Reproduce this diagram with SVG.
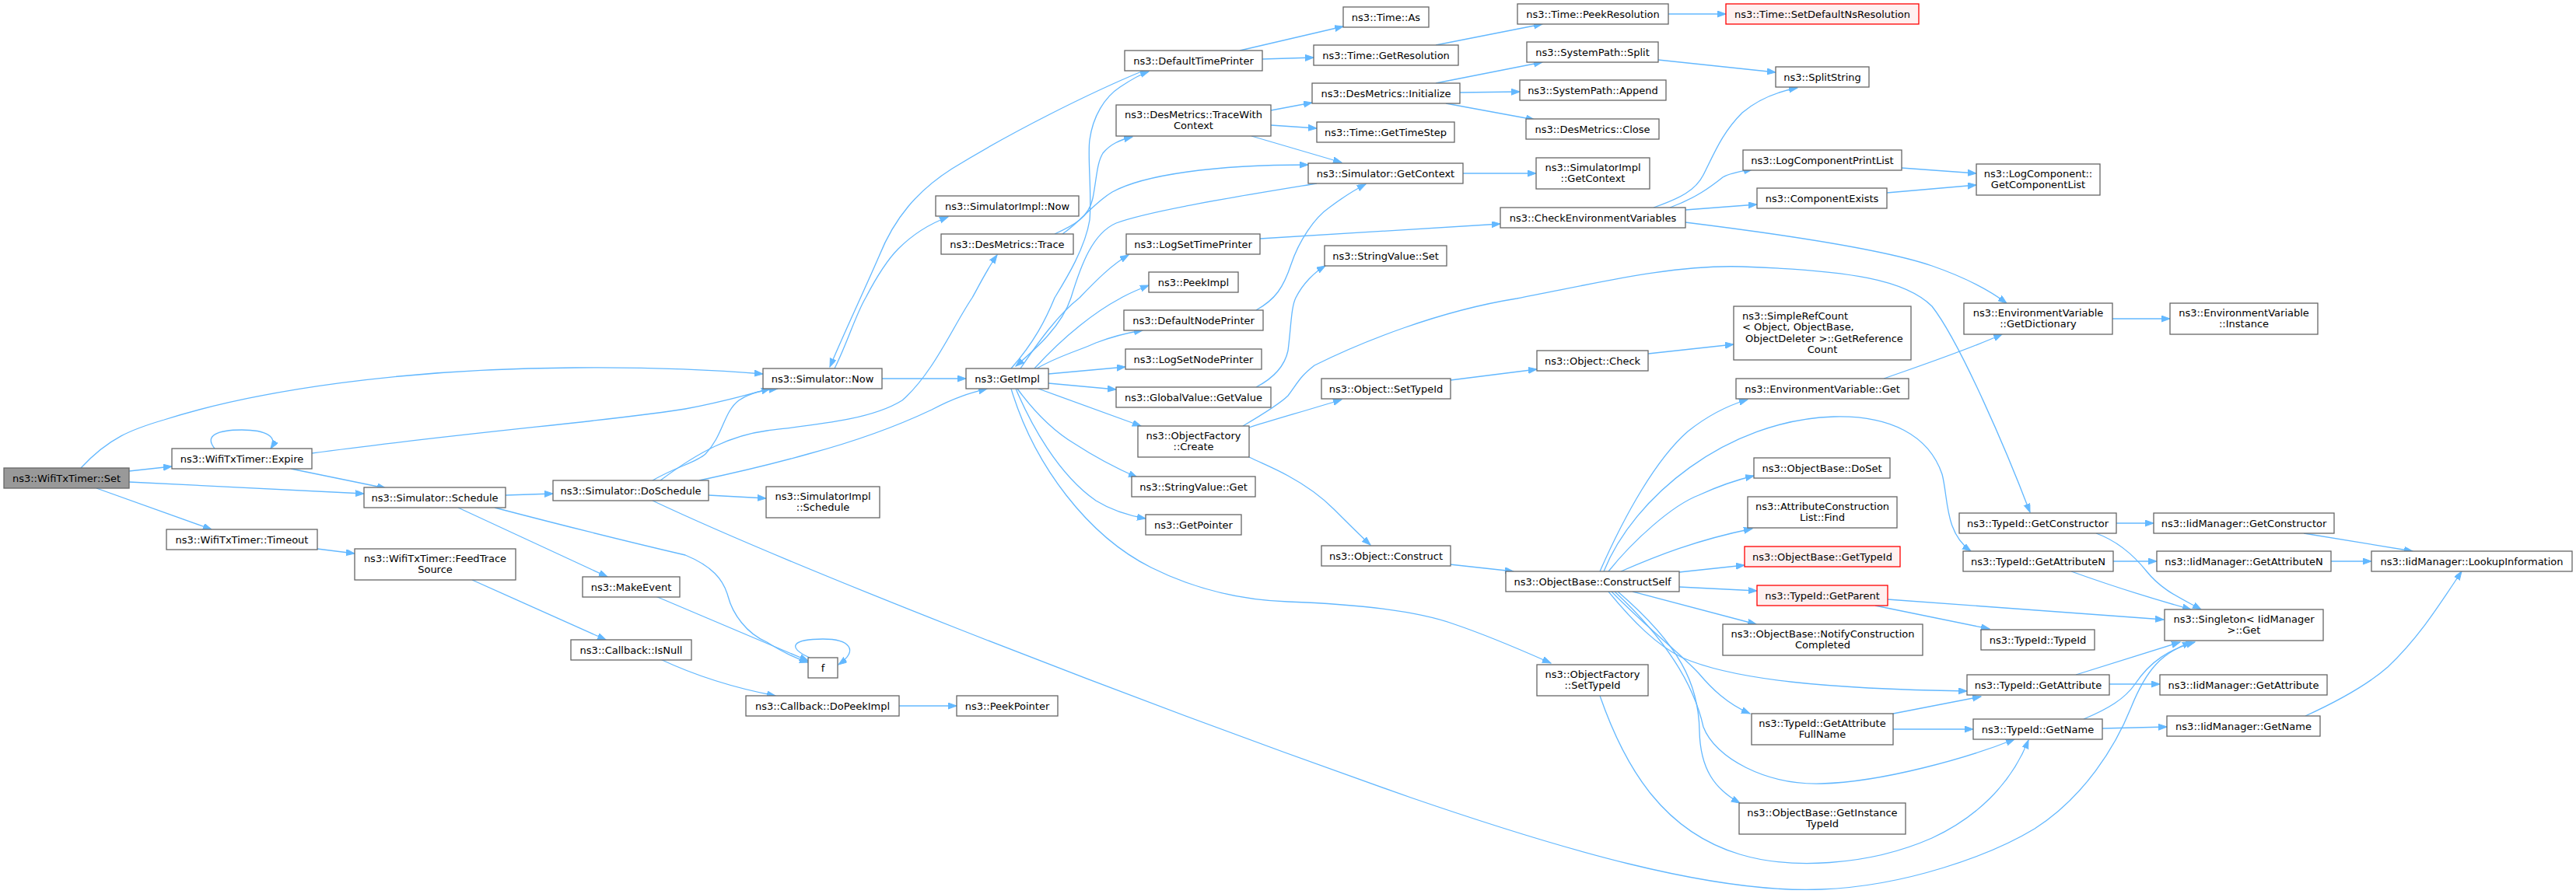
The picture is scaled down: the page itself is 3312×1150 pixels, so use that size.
<svg xmlns="http://www.w3.org/2000/svg" width="3312" height="1150" viewBox="0 0 3312 1150">
<style>
.node rect{fill:#ffffff;stroke:#666666;stroke-width:1.3}
.root rect{fill:#999999;stroke:#666666;stroke-width:1.3}
.red rect{fill:#fff0f0;stroke:#ff0000;stroke-width:1.3}
text{font-family:"DejaVu Sans","Liberation Sans",sans-serif;font-size:13px;fill:#000000;text-anchor:middle}
.lt{text-anchor:start}
.edges path{fill:none;stroke:#63b8ff;stroke-width:1.3;marker-end:url(#arr)}
</style>
<defs>
<marker id="arr" markerUnits="userSpaceOnUse" markerWidth="12" markerHeight="9" refX="11" refY="4" orient="auto">
<path d="M0,0 L11,4 L0,8 z" fill="#63b8ff" stroke="#63b8ff" stroke-width="1"/>
</marker>
</defs>
<rect x="0" y="0" width="3312" height="1150" fill="#ffffff"/>
<g id="connectors" class="edges">
<path d="M104,602 C140,563 170,552 211,540 C330,502 520,474 739,473 C850,472 920,476 981,481"/>
<path d="M166,606 L221,600"/>
<path d="M166,620 L468,635"/>
<path d="M124,628 L272,681"/>
<path d="M276,577 C262,560 280,553 311,553 C342,553 358,562 348,577"/>
<path d="M401,583 C600,556 800,540 881,526 C930,517 960,508 990,500"/>
<path d="M374,603 L496,628"/>
<path d="M650,637 L711,635"/>
<path d="M589,653 L781,742"/>
<path d="M636,653 C720,675 800,695 881,714 C915,728 930,745 936,767 C942,790 960,815 986,826 C1005,838 1020,846 1039,852"/>
<path d="M843,767 L1039,850"/>
<path d="M1041,846 C1010,832 1020,822 1058,822 C1092,822 1105,836 1078,855"/>
<path d="M408,706 L456,712"/>
<path d="M607,746 L779,823"/>
<path d="M849,848 C900,872 950,886 997,895"/>
<path d="M1156,908 L1230,908"/>
<path d="M839,618 C870,600 895,595 907,584 C930,560 930,530 950,515 C965,505 980,502 1000,500"/>
<path d="M849,618 C900,580 940,560 986,554 C1050,546 1120,540 1160,515 C1200,480 1225,420 1250,383 C1260,365 1270,345 1282,328"/>
<path d="M899,618 C960,605 1000,595 1039,584 C1110,565 1160,545 1198,527 C1230,510 1250,505 1269,500"/>
<path d="M911,637 L985,641"/>
<path d="M839,644 C1000,720 1400,880 1814,1026 C2000,1090 2200,1150 2342,1144 C2450,1140 2560,1100 2616,1066 C2680,1025 2720,960 2740,910 C2760,860 2780,840 2817,826"/>
<path d="M1134,487 L1242,487"/>
<path d="M1073,474 C1090,440 1100,405 1113,383 C1125,360 1140,335 1155,320 C1175,300 1195,288 1219,279"/>
<path d="M1470,91 C1400,120 1300,170 1224,217 C1180,245 1150,280 1130,330 C1115,365 1080,440 1067,472"/>
<path d="M1300,474 C1330,440 1345,410 1356,383 C1370,360 1395,320 1401,283 C1404,250 1398,200 1401,180 C1405,150 1420,125 1440,112 C1455,102 1465,96 1477,92"/>
<path d="M1693,236 C1620,248 1480,270 1435,287 C1405,300 1390,340 1377,383 C1365,420 1330,450 1306,471"/>
<path d="M1312,474 C1335,440 1360,405 1388,383 C1410,360 1430,340 1451,328"/>
<path d="M1330,474 C1370,430 1410,400 1440,384 C1450,378 1462,373 1477,367"/>
<path d="M1333,474 C1360,458 1390,450 1409,441 C1430,433 1450,428 1469,425"/>
<path d="M1348,481 L1447,472"/>
<path d="M1348,493 L1435,501"/>
<path d="M1335,500 L1467,548"/>
<path d="M1308,500 C1330,530 1355,555 1382,571 C1405,586 1430,600 1462,614"/>
<path d="M1306,500 C1325,545 1360,610 1409,644 C1430,657 1450,663 1473,667"/>
<path d="M1300,500 C1330,600 1400,690 1480,730 C1540,760 1600,772 1656,774 C1740,777 1820,785 1870,803 C1920,820 1960,838 1994,853"/>
<path d="M1356,301 C1380,290 1400,280 1405,255 C1410,230 1410,210 1418,197 C1428,185 1440,180 1456,176"/>
<path d="M1366,301 C1390,285 1405,262 1430,247 C1470,225 1560,212 1682,212"/>
<path d="M1594,65 L1727,34"/>
<path d="M1623,76 L1689,74"/>
<path d="M1634,142 L1687,132"/>
<path d="M1634,161 L1693,165"/>
<path d="M1609,175 L1725,209"/>
<path d="M1620,307 L1929,288"/>
<path d="M1846,58 L1983,31"/>
<path d="M2145,18 L2219,18"/>
<path d="M1846,107 L1983,80"/>
<path d="M1877,119 L1954,118"/>
<path d="M1859,133 L1973,154"/>
<path d="M2132,77 L2283,93"/>
<path d="M1881,223 L1975,223"/>
<path d="M2126,267 C2160,255 2180,245 2190,225 C2205,195 2215,170 2240,145 C2260,128 2285,118 2311,113"/>
<path d="M2147,267 C2180,255 2200,240 2215,228 C2225,222 2240,220 2253,218"/>
<path d="M2167,270 L2259,263"/>
<path d="M2167,286 C2280,300 2420,320 2484,342 C2530,358 2560,375 2580,390"/>
<path d="M2445,216 L2541,223"/>
<path d="M2426,248 L2541,238"/>
<path d="M1615,399 C1640,385 1650,370 1660,340 C1670,310 1690,280 1709,267 C1725,255 1740,245 1756,237"/>
<path d="M1615,498 C1640,485 1652,470 1656,451 C1660,420 1660,395 1666,383 C1675,365 1690,350 1704,342"/>
<path d="M1606,550 C1630,542 1680,528 1725,514"/>
<path d="M1598,548 C1620,535 1645,520 1656,509 C1670,490 1672,484 1690,470 C1750,440 1850,400 1950,384 C2050,365 2150,340 2240,343 C2380,348 2450,360 2484,394 C2520,440 2580,580 2610,659"/>
<path d="M1606,588 C1625,597 1640,603 1656,612 C1680,625 1700,640 1715,655 C1735,675 1750,690 1762,701"/>
<path d="M1865,489 L1976,475"/>
<path d="M2119,455 L2229,443"/>
<path d="M1864,726 L1946,735"/>
<path d="M2057,735 C2090,660 2130,590 2170,555 C2195,535 2220,522 2247,514"/>
<path d="M2062,735 C2100,640 2220,540 2358,536 C2430,534 2480,560 2497,610 C2505,640 2500,685 2534,709"/>
<path d="M2068,735 C2100,695 2150,650 2184,637 C2210,625 2230,618 2255,612"/>
<path d="M2084,735 C2130,715 2180,695 2253,680"/>
<path d="M2159,736 L2243,727"/>
<path d="M2159,755 L2259,760"/>
<path d="M2099,761 L2258,803"/>
<path d="M2068,761 C2100,800 2130,830 2163,846 C2230,875 2350,886 2529,889"/>
<path d="M2072,761 C2120,810 2160,840 2184,866 C2200,885 2220,905 2250,918"/>
<path d="M2076,761 C2150,830 2180,890 2190,935 C2205,975 2270,1010 2342,1008 C2420,1006 2530,975 2590,951"/>
<path d="M2080,761 C2160,830 2184,880 2185,940 C2186,990 2205,1015 2237,1033"/>
<path d="M2057,895 C2090,990 2140,1070 2237,1099 C2300,1118 2400,1115 2484,1078 C2540,1052 2585,1010 2608,952"/>
<path d="M2434,918 L2547,896"/>
<path d="M2434,938 L2537,938"/>
<path d="M2427,771 L2782,797"/>
<path d="M2411,779 L2558,809"/>
<path d="M2422,487 C2470,470 2530,450 2574,430"/>
<path d="M2716,410 L2790,410"/>
<path d="M2721,673 L2769,673"/>
<path d="M2962,686 L3102,709"/>
<path d="M2717,722 L2773,722"/>
<path d="M2997,722 L3049,722"/>
<path d="M2964,921 C3010,900 3045,880 3070,858 C3110,820 3135,780 3165,735"/>
<path d="M2695,686 C2720,695 2740,710 2760,735 C2780,760 2805,770 2830,784"/>
<path d="M2663,735 C2710,752 2760,768 2817,784"/>
<path d="M2669,868 L2803,826"/>
<path d="M2712,880 L2777,880"/>
<path d="M2679,925 C2710,912 2732,899 2745,880 C2765,850 2790,835 2822,826"/>
<path d="M2703,937 L2786,935"/>
</g>
<g id="n1" class="root"><rect x="5" y="602" width="161" height="26"/><text x="85.5" y="619.5">ns3::WifiTxTimer::Set</text></g>
<g id="n2" class="node"><rect x="221" y="577" width="180" height="26"/><text x="311" y="594.5">ns3::WifiTxTimer::Expire</text></g>
<g id="n3" class="node"><rect x="468" y="627" width="182" height="26"/><text x="559" y="644.5">ns3::Simulator::Schedule</text></g>
<g id="n4" class="node"><rect x="214" y="681" width="194" height="26"/><text x="311" y="698.5">ns3::WifiTxTimer::Timeout</text></g>
<g id="n5" class="node"><rect x="711" y="618" width="200" height="26"/><text x="811" y="635.5">ns3::Simulator::DoSchedule</text></g>
<g id="n6" class="node"><rect x="456" y="706" width="207" height="40"/><text x="559.5" y="722.5">ns3::WifiTxTimer::FeedTrace</text><text x="559.5" y="737">Source</text></g>
<g id="n7" class="node"><rect x="749" y="742" width="125" height="26"/><text x="811.5" y="759.5">ns3::MakeEvent</text></g>
<g id="n8" class="node"><rect x="734" y="823" width="155" height="26"/><text x="811.5" y="840.5">ns3::Callback::IsNull</text></g>
<g id="n9" class="node"><rect x="1039" y="846" width="38" height="26"/><text x="1058" y="863.5">f</text></g>
<g id="n10" class="node"><rect x="959" y="895" width="197" height="26"/><text x="1057.5" y="912.5">ns3::Callback::DoPeekImpl</text></g>
<g id="n11" class="node"><rect x="1230" y="895" width="130" height="26"/><text x="1295" y="912.5">ns3::PeekPointer</text></g>
<g id="n12" class="node"><rect x="981" y="474" width="153" height="26"/><text x="1057.5" y="491.5">ns3::Simulator::Now</text></g>
<g id="n13" class="node"><rect x="1203" y="252" width="184" height="26"/><text x="1295" y="269.5">ns3::SimulatorImpl::Now</text></g>
<g id="n14" class="node"><rect x="1210" y="301" width="170" height="26"/><text x="1295" y="318.5">ns3::DesMetrics::Trace</text></g>
<g id="n15" class="node"><rect x="985" y="626" width="146" height="40"/><text x="1058" y="642.5">ns3::SimulatorImpl</text><text x="1058" y="657">::Schedule</text></g>
<g id="n16" class="node"><rect x="1242" y="474" width="106" height="26"/><text x="1295" y="491.5">ns3::GetImpl</text></g>
<g id="n17" class="node"><rect x="1446" y="65" width="177" height="26"/><text x="1534.5" y="82.5">ns3::DefaultTimePrinter</text></g>
<g id="n18" class="node"><rect x="1435" y="135" width="199" height="40"/><text x="1534.5" y="151.5">ns3::DesMetrics::TraceWith</text><text x="1534.5" y="166">Context</text></g>
<g id="n19" class="node"><rect x="1448" y="301" width="172" height="26"/><text x="1534" y="318.5">ns3::LogSetTimePrinter</text></g>
<g id="n20" class="node"><rect x="1477" y="350" width="115" height="26"/><text x="1534.5" y="367.5">ns3::PeekImpl</text></g>
<g id="n21" class="node"><rect x="1445" y="399" width="179" height="26"/><text x="1534.5" y="416.5">ns3::DefaultNodePrinter</text></g>
<g id="n22" class="node"><rect x="1447" y="449" width="175" height="26"/><text x="1534.5" y="466.5">ns3::LogSetNodePrinter</text></g>
<g id="n23" class="node"><rect x="1435" y="498" width="199" height="26"/><text x="1534.5" y="515.5">ns3::GlobalValue::GetValue</text></g>
<g id="n24" class="node"><rect x="1463" y="548" width="143" height="40"/><text x="1534.5" y="564.5">ns3::ObjectFactory</text><text x="1534.5" y="579">::Create</text></g>
<g id="n25" class="node"><rect x="1455" y="613" width="159" height="26"/><text x="1534.5" y="630.5">ns3::StringValue::Get</text></g>
<g id="n26" class="node"><rect x="1473" y="662" width="123" height="26"/><text x="1534.5" y="679.5">ns3::GetPointer</text></g>
<g id="n27" class="node"><rect x="1727" y="9" width="110" height="26"/><text x="1782" y="26.5">ns3::Time::As</text></g>
<g id="n28" class="node"><rect x="1689" y="58" width="186" height="26"/><text x="1782" y="75.5">ns3::Time::GetResolution</text></g>
<g id="n29" class="node"><rect x="1687" y="107" width="190" height="26"/><text x="1782" y="124.5">ns3::DesMetrics::Initialize</text></g>
<g id="n30" class="node"><rect x="1693" y="157" width="177" height="26"/><text x="1781.5" y="174.5">ns3::Time::GetTimeStep</text></g>
<g id="n31" class="node"><rect x="1682" y="210" width="199" height="26"/><text x="1781.5" y="227.5">ns3::Simulator::GetContext</text></g>
<g id="n32" class="node"><rect x="1703" y="316" width="157" height="26"/><text x="1781.5" y="333.5">ns3::StringValue::Set</text></g>
<g id="n33" class="node"><rect x="1951" y="5" width="194" height="26"/><text x="2048" y="22.5">ns3::Time::PeekResolution</text></g>
<g id="n34" class="red"><rect x="2219" y="5" width="248" height="26"/><text x="2343" y="22.5">ns3::Time::SetDefaultNsResolution</text></g>
<g id="n35" class="node"><rect x="1963" y="54" width="169" height="26"/><text x="2047.5" y="71.5">ns3::SystemPath::Split</text></g>
<g id="n36" class="node"><rect x="1954" y="103" width="188" height="26"/><text x="2048" y="120.5">ns3::SystemPath::Append</text></g>
<g id="n37" class="node"><rect x="1962" y="153" width="171" height="26"/><text x="2047.5" y="170.5">ns3::DesMetrics::Close</text></g>
<g id="n38" class="node"><rect x="1975" y="203" width="146" height="40"/><text x="2048" y="219.5">ns3::SimulatorImpl</text><text x="2048" y="234">::GetContext</text></g>
<g id="n39" class="node"><rect x="1929" y="267" width="238" height="26"/><text x="2048" y="284.5">ns3::CheckEnvironmentVariables</text></g>
<g id="n40" class="node"><rect x="2283" y="86" width="120" height="26"/><text x="2343" y="103.5">ns3::SplitString</text></g>
<g id="n41" class="node"><rect x="2241" y="193" width="204" height="26"/><text x="2343" y="210.5">ns3::LogComponentPrintList</text></g>
<g id="n42" class="node"><rect x="2259" y="242" width="167" height="26"/><text x="2342.5" y="259.5">ns3::ComponentExists</text></g>
<g id="n43" class="node"><rect x="2541" y="211" width="159" height="40"/><text x="2620.5" y="227.5">ns3::LogComponent::</text><text x="2620.5" y="242">GetComponentList</text></g>
<g id="n44" class="node"><rect x="1699" y="487" width="166" height="26"/><text x="1782" y="504.5">ns3::Object::SetTypeId</text></g>
<g id="n45" class="node"><rect x="1976" y="451" width="143" height="26"/><text x="2047.5" y="468.5">ns3::Object::Check</text></g>
<g id="n46" class="node"><rect x="2229" y="394" width="228" height="69"/><text class="lt" x="2240" y="410.5">ns3::SimpleRefCount</text><text class="lt" x="2240" y="425">&lt; Object, ObjectBase,</text><text class="lt" x="2244" y="439.5">ObjectDeleter &gt;::GetReference</text><text x="2343" y="454">Count</text></g>
<g id="n47" class="node"><rect x="2232" y="487" width="222" height="26"/><text x="2343" y="504.5">ns3::EnvironmentVariable::Get</text></g>
<g id="n48" class="node"><rect x="2255" y="589" width="175" height="26"/><text x="2342.5" y="606.5">ns3::ObjectBase::DoSet</text></g>
<g id="n49" class="node"><rect x="2247" y="639" width="192" height="40"/><text x="2343" y="655.5">ns3::AttributeConstruction</text><text x="2343" y="670">List::Find</text></g>
<g id="n50" class="red"><rect x="2243" y="703" width="200" height="26"/><text x="2343" y="720.5">ns3::ObjectBase::GetTypeId</text></g>
<g id="n51" class="red"><rect x="2259" y="753" width="168" height="26"/><text x="2343" y="770.5">ns3::TypeId::GetParent</text></g>
<g id="n52" class="node"><rect x="1699" y="702" width="166" height="26"/><text x="1782" y="719.5">ns3::Object::Construct</text></g>
<g id="n53" class="node"><rect x="1936" y="735" width="223" height="26"/><text x="2047.5" y="752.5">ns3::ObjectBase::ConstructSelf</text></g>
<g id="n54" class="node"><rect x="2215" y="803" width="257" height="40"/><text x="2343.5" y="819.5">ns3::ObjectBase::NotifyConstruction</text><text x="2343.5" y="834">Completed</text></g>
<g id="n55" class="node"><rect x="1976" y="855" width="143" height="40"/><text x="2047.5" y="871.5">ns3::ObjectFactory</text><text x="2047.5" y="886">::SetTypeId</text></g>
<g id="n56" class="node"><rect x="2252" y="918" width="182" height="40"/><text x="2343" y="934.5">ns3::TypeId::GetAttribute</text><text x="2343" y="949">FullName</text></g>
<g id="n57" class="node"><rect x="2236" y="1033" width="214" height="40"/><text x="2343" y="1049.5">ns3::ObjectBase::GetInstance</text><text x="2343" y="1064">TypeId</text></g>
<g id="n58" class="node"><rect x="2525" y="390" width="191" height="40"/><text x="2620.5" y="406.5">ns3::EnvironmentVariable</text><text x="2620.5" y="421">::GetDictionary</text></g>
<g id="n59" class="node"><rect x="2790" y="390" width="190" height="40"/><text x="2885" y="406.5">ns3::EnvironmentVariable</text><text x="2885" y="421">::Instance</text></g>
<g id="n60" class="node"><rect x="2519" y="660" width="202" height="26"/><text x="2620" y="677.5">ns3::TypeId::GetConstructor</text></g>
<g id="n61" class="node"><rect x="2769" y="660" width="232" height="26"/><text x="2885" y="677.5">ns3::IidManager::GetConstructor</text></g>
<g id="n62" class="node"><rect x="2524" y="709" width="193" height="26"/><text x="2620.5" y="726.5">ns3::TypeId::GetAttributeN</text></g>
<g id="n63" class="node"><rect x="2773" y="709" width="224" height="26"/><text x="2885" y="726.5">ns3::IidManager::GetAttributeN</text></g>
<g id="n64" class="node"><rect x="3049" y="709" width="258" height="26"/><text x="3178" y="726.5">ns3::IidManager::LookupInformation</text></g>
<g id="n65" class="node"><rect x="2783" y="784" width="204" height="40"/><text x="2885" y="800.5">ns3::Singleton&lt; IidManager</text><text x="2885" y="815">&gt;::Get</text></g>
<g id="n66" class="node"><rect x="2547" y="810" width="146" height="26"/><text x="2620" y="827.5">ns3::TypeId::TypeId</text></g>
<g id="n67" class="node"><rect x="2529" y="868" width="183" height="26"/><text x="2620.5" y="885.5">ns3::TypeId::GetAttribute</text></g>
<g id="n68" class="node"><rect x="2777" y="868" width="215" height="26"/><text x="2884.5" y="885.5">ns3::IidManager::GetAttribute</text></g>
<g id="n69" class="node"><rect x="2537" y="925" width="166" height="26"/><text x="2620" y="942.5">ns3::TypeId::GetName</text></g>
<g id="n70" class="node"><rect x="2786" y="921" width="197" height="26"/><text x="2884.5" y="938.5">ns3::IidManager::GetName</text></g>
</svg>
